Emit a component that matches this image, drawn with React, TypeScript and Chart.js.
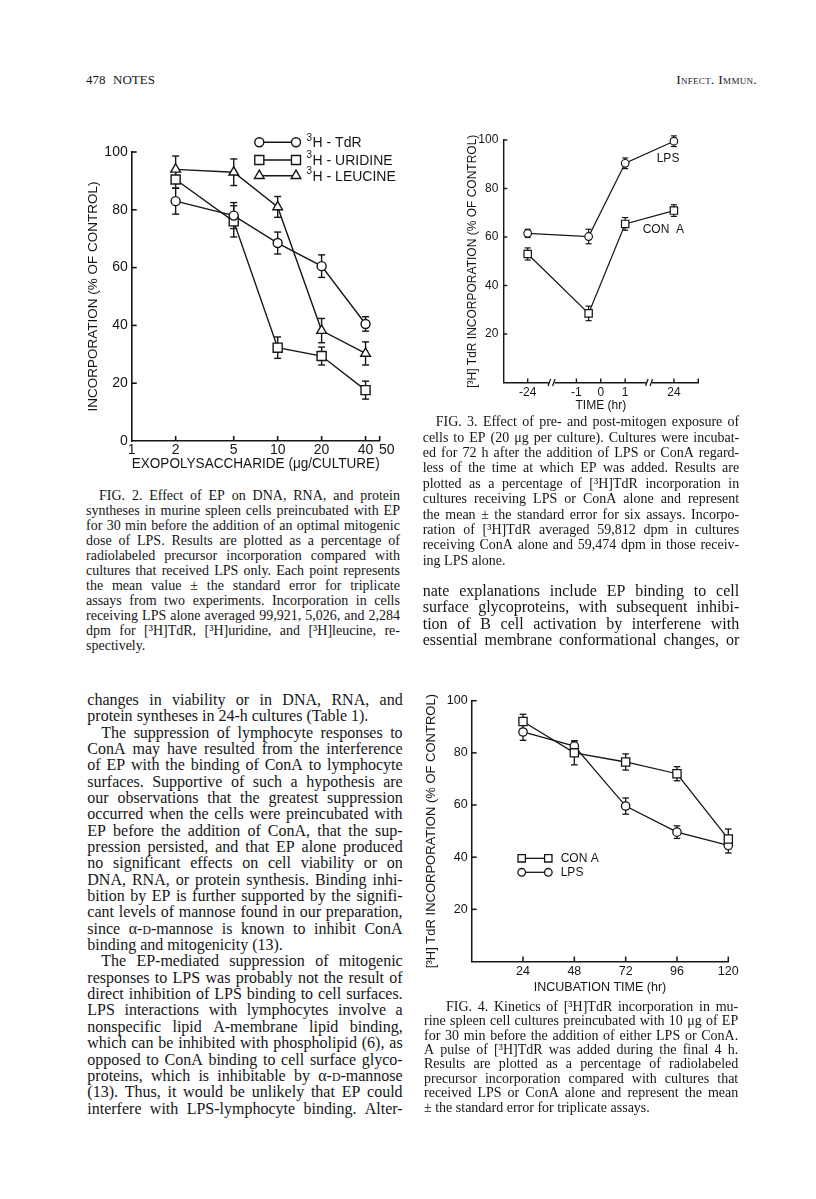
import React, { useEffect, useRef } from 'react';
import { Chart, registerables } from 'chart.js';
Chart.register(...registerables);

const INK = '#151515';
const SERIF = "'Liberation Serif', 'Times New Roman', Times, serif";
const SANS = "'Liberation Sans', Arial, Helvetica, sans-serif";

// ---------------- FIG. 2 data ----------------
const fig2Doses = [2, 5, 10, 20, 40];
const fig2TdR = [83, 78, 68.5, 60.5, 40.5];
const fig2TdRErr = [4.5, 4.5, 3.8, 3.9, 2.5];
const fig2Uridine = [90.5, 76, 32.3, 29.4, 17.6];
const fig2UridineErr = [3, 5.4, 3.7, 3.1, 3.1];
const fig2Leucine = [94, 93, 81, 38.2, 30.3];
const fig2LeucineErr = [4.6, 4.6, 3.6, 4.2, 4];
const fig2XTicks = [1, 2, 5, 10, 20, 40, 50];
const fig2XTickLabels = ['1', '2', '5', '10', '20', '40', '\u200350'];
const fig2YTicks = [0, 20, 40, 60, 80, 100];
const fig2Legend = ['H - TdR', 'H - URIDINE', 'H - LEUCINE'];

// ---------------- FIG. 3 data ----------------
const fig3Hours = [-24, -0.5, 1, 24];
const fig3LPS = [61.5, 60.2, 90.4, 99.5];
const fig3LPSErr = [1.7, 3, 2.2, 2.2];
const fig3ConA = [53, 28.5, 65.4, 70.9];
const fig3ConAErr = [2.5, 3, 2.6, 2.4];
const fig3TickHours = [-24, -1, 0, 1, 24];
const fig3YTicks = [20, 40, 60, 80, 100];

// ---------------- FIG. 4 data ----------------
const fig4Hours = [24, 48, 72, 96, 120];
const fig4ConA = [92, 80, 76.5, 72, 47];
const fig4ConAErr = [2.8, 4.6, 3.1, 2.7, 3.8];
const fig4LPS = [88, 82.6, 59.6, 49.6, 44.5];
const fig4LPSErr = [3.2, 2, 3.1, 2.4, 2.9];
const fig4XTicks = [24, 48, 72, 96, 120];
const fig4YTicks = [20, 40, 60, 80, 100];

// ---------------- text ----------------
const fig2Caption = [
  'FIG. 2. Effect of EP on DNA, RNA, and protein',
  'syntheses in murine spleen cells preincubated with EP',
  'for 30 min before the addition of an optimal mitogenic',
  'dose of LPS. Results are plotted as a percentage of',
  'radiolabeled precursor incorporation compared with',
  'cultures that received LPS only. Each point represents',
  'the mean value \u00b1 the standard error for triplicate',
  'assays from two experiments. Incorporation in cells',
  'receiving LPS alone averaged 99,921, 5,026, and 2,284',
  'dpm for [\u00b3H]TdR, [\u00b3H]uridine, and [\u00b3H]leucine, re-',
  'spectively.',
];
const fig3Caption = [
  'FIG. 3. Effect of pre- and post-mitogen exposure of',
  'cells to EP (20 \u03bcg per culture). Cultures were incubat-',
  'ed for 72 h after the addition of LPS or ConA regard-',
  'less of the time at which EP was added. Results are',
  'plotted as a percentage of [\u00b3H]TdR incorporation in',
  'cultures receiving LPS or ConA alone and represent',
  'the mean \u00b1 the standard error for six assays. Incorpo-',
  'ration of [\u00b3H]TdR averaged 59,812 dpm in cultures',
  'receiving ConA alone and 59,474 dpm in those receiv-',
  'ing LPS alone.',
];
const fig4Caption = [
  'FIG. 4. Kinetics of [\u00b3H]TdR incorporation in mu-',
  'rine spleen cell cultures preincubated with 10 \u03bcg of EP',
  'for 30 min before the addition of either LPS or ConA.',
  'A pulse of [\u00b3H]TdR was added during the final 4 h.',
  'Results are plotted as a percentage of radiolabeled',
  'precursor incorporation compared with cultures that',
  'received LPS or ConA alone and represent the mean',
  '\u00b1 the standard error for triplicate assays.',
];
const rightBody = [
  'nate explanations include EP binding to cell',
  'surface glycoproteins, with subsequent inhibi-',
  'tion of B cell activation by interferene with',
  'essential membrane conformational changes, or',
];
const leftBody = [
  'changes in viability or in DNA, RNA, and',
  'protein syntheses in 24-h cultures (Table 1).',
  'The suppression of lymphocyte responses to',
  'ConA may have resulted from the interference',
  'of EP with the binding of ConA to lymphocyte',
  'surfaces. Supportive of such a hypothesis are',
  'our observations that the greatest suppression',
  'occurred when the cells were preincubated with',
  'EP before the addition of ConA, that the sup-',
  'pression persisted, and that EP alone produced',
  'no significant effects on cell viability or on',
  'DNA, RNA, or protein synthesis. Binding inhi-',
  'bition by EP is further supported by the signifi-',
  'cant levels of mannose found in our preparation,',
  'since \u03b1-D-mannose is known to inhibit ConA',
  'binding and mitogenicity (13).',
  'The EP-mediated suppression of mitogenic',
  'responses to LPS was probably not the result of',
  'direct inhibition of LPS binding to cell surfaces.',
  'LPS interactions with lymphocytes involve a',
  'nonspecific lipid A-membrane lipid binding,',
  'which can be inhibited with phospholipid (6), as',
  'opposed to ConA binding to cell surface glyco-',
  'proteins, which is inhibitable by \u03b1-D-mannose',
  '(13). Thus, it would be unlikely that EP could',
  'interfere with LPS-lymphocyte binding. Alter-',
];

// ---------------- chart helpers ----------------
type Rect = { x: number; y: number; w: number; h: number };
type Area = { l: number; t: number; r: number; b: number };
type Series = { xs: number[]; ys: number[]; errs: number[]; style: string; r: number };
type FigSpec = {
  rect: Rect;
  area: Area;
  xScale: any;
  xTicks: number[];
  xLabel: (v: number) => string;
  xMarks: number[];
  yTicks: number[];
  yMarks: number[];
  tickFont: number;
  xTickPad: number;
  yTickPad: number;
  xTitle: string;
  xTitleSize: number;
  xTitlePad: number;
  yTitle: string;
  yTitleSize: number;
  yTitlePad: number;
  series: Series[];
  lineW: number;
  axisW: number;
  cap: number;
  tickLen: number;
  decorate?: (ctx: CanvasRenderingContext2D, chart: any, P: (x: number, y: number) => [number, number]) => void;
};

function drawMarker(ctx: CanvasRenderingContext2D, style: string, x: number, y: number, r: number) {
  ctx.beginPath();
  if (style === 'circle') ctx.arc(x, y, r, 0, Math.PI * 2);
  else if (style === 'rect') {
    const s = r * Math.SQRT1_2;
    ctx.rect(x - s, y - s, 2 * s, 2 * s);
  } else {
    ctx.moveTo(x, y - r);
    ctx.lineTo(x + r * Math.sin((2 * Math.PI) / 3), y - r * Math.cos((2 * Math.PI) / 3));
    ctx.lineTo(x + r * Math.sin((4 * Math.PI) / 3), y - r * Math.cos((4 * Math.PI) / 3));
    ctx.closePath();
  }
  ctx.fillStyle = '#fff';
  ctx.fill();
  ctx.stroke();
}

function seg(ctx: CanvasRenderingContext2D, x1: number, y1: number, x2: number, y2: number) {
  ctx.beginPath();
  ctx.moveTo(x1, y1);
  ctx.lineTo(x2, y2);
  ctx.stroke();
}

function buildConfig(s: FigSpec): any {
  const padTop = s.area.t - s.rect.y;
  const padRight = s.rect.x + s.rect.w - s.area.r;
  const yW = s.area.l - s.rect.x;
  const xH = s.rect.y + s.rect.h - s.area.b;
  const P = (x: number, y: number): [number, number] => [x - s.rect.x, y - s.rect.y];
  const decor = {
    id: 'decor',
    beforeDatasetsDraw(chart: any) {
      const ctx = chart.ctx;
      const yS = chart.scales.y;
      ctx.save();
      ctx.strokeStyle = INK;
      ctx.lineWidth = s.lineW;
      chart.data.datasets.forEach((ds: any, i: number) => {
        const meta = chart.getDatasetMeta(i);
        ds.data.forEach((p: any, j: number) => {
          const e = ds.errs[j];
          const px = meta.data[j].x;
          const t = yS.getPixelForValue(p.y + e);
          const b = yS.getPixelForValue(p.y - e);
          seg(ctx, px, t, px, b);
          seg(ctx, px - s.cap, t, px + s.cap, t);
          seg(ctx, px - s.cap, b, px + s.cap, b);
        });
      });
      ctx.restore();
    },
    afterDraw(chart: any) {
      const ctx = chart.ctx;
      const a = chart.chartArea;
      const xS = chart.scales.x;
      const yS = chart.scales.y;
      ctx.save();
      ctx.strokeStyle = INK;
      ctx.lineWidth = s.axisW;
      s.xMarks.forEach((v) => {
        const px = xS.getPixelForValue(v);
        seg(ctx, px, a.bottom, px, a.bottom - s.tickLen);
      });
      s.yMarks.forEach((v) => {
        const py = yS.getPixelForValue(v);
        seg(ctx, a.left, py, a.left + s.tickLen, py);
      });
      if (s.decorate) s.decorate(ctx, chart, P);
      ctx.restore();
    },
  };
  return {
    type: 'line',
    data: {
      datasets: s.series.map((se) => ({
        data: se.xs.map((x, i) => ({ x, y: se.ys[i] })),
        errs: se.errs,
        borderColor: INK,
        borderWidth: s.lineW,
        pointStyle: se.style,
        pointRadius: se.r,
        pointBackgroundColor: '#ffffff',
        pointBorderColor: INK,
        pointBorderWidth: s.lineW,
        tension: 0,
        fill: false,
        clip: false,
        showLine: true,
      })),
    },
    options: {
      responsive: false,
      animation: false,
      devicePixelRatio: 1,
      events: [],
      layout: { padding: { top: padTop, right: padRight, left: 0, bottom: 0 } },
      plugins: { legend: { display: false }, tooltip: { enabled: false }, title: { display: false } },
      scales: {
        x: {
          ...s.xScale,
          position: 'bottom',
          afterFit: (sc: any) => {
            sc.height = xH;
          },
          afterBuildTicks: (sc: any) => {
            sc.ticks = s.xTicks.map((v) => ({ value: v }));
          },
          ticks: {
            autoSkip: false,
            maxRotation: 0,
            minRotation: 0,
            padding: s.xTickPad,
            color: INK,
            font: { family: SANS, size: s.tickFont },
            callback: (v: number) => s.xLabel(v),
          },
          grid: { display: false, drawTicks: false },
          border: { display: true, color: INK, width: s.axisW },
          title: {
            display: true,
            text: s.xTitle,
            color: INK,
            font: { family: SANS, size: s.xTitleSize },
            padding: { top: 0, bottom: s.xTitlePad },
          },
        },
        y: {
          type: 'linear',
          min: 0,
          max: 100,
          position: 'left',
          afterFit: (sc: any) => {
            sc.width = yW;
          },
          afterBuildTicks: (sc: any) => {
            sc.ticks = s.yTicks.map((v) => ({ value: v }));
          },
          ticks: {
            padding: s.yTickPad,
            color: INK,
            font: { family: SANS, size: s.tickFont },
            callback: (v: number) => String(v),
          },
          grid: { display: false, drawTicks: false },
          border: { display: true, color: INK, width: s.axisW },
          title: {
            display: true,
            text: s.yTitle,
            color: INK,
            font: { family: SANS, size: s.yTitleSize },
            padding: { top: s.yTitlePad, bottom: 0 },
          },
        },
      },
    },
    plugins: [decor],
  };
}

function drawSupLabel(ctx: CanvasRenderingContext2D, text: string, x: number, y: number, size: number) {
  ctx.fillStyle = INK;
  ctx.textBaseline = 'middle';
  ctx.textAlign = 'left';
  ctx.font = `${Math.round(size * 0.72)}px ${SANS}`;
  ctx.fillText('3', x, y - size * 0.38);
  const w = ctx.measureText('3').width;
  ctx.font = `${size}px ${SANS}`;
  ctx.fillText(text, x + w + 0.5, y);
}

// ---------------- figure specs ----------------
const fig3Axis = (h: number) => (Math.abs(h) <= 1 ? h : Math.sign(h) * 3);

const fig2Spec: FigSpec = {
  rect: { x: 78, y: 130, w: 332, h: 345 },
  area: { l: 131.7, t: 152, r: 379.7, b: 441 },
  xScale: { type: 'logarithmic', min: 1, max: 50 },
  xTicks: fig2XTicks,
  xLabel: (v) => fig2XTickLabels[fig2XTicks.indexOf(v)] ?? '',
  xMarks: fig2XTicks.slice(1),
  yTicks: fig2YTicks,
  yMarks: fig2YTicks.slice(1),
  tickFont: 14,
  xTickPad: 1,
  yTickPad: 4,
  xTitle: 'EXOPOLYSACCHARIDE (\u03bcg/CULTURE)',
  xTitleSize: 14,
  xTitlePad: 2,
  yTitle: 'INCORPORATION (% OF CONTROL)',
  yTitleSize: 13.5,
  yTitlePad: 7,
  series: [
    { xs: fig2Doses, ys: fig2TdR, errs: fig2TdRErr, style: 'circle', r: 4.5 },
    { xs: fig2Doses, ys: fig2Uridine, errs: fig2UridineErr, style: 'rect', r: 6.4 },
    { xs: fig2Doses, ys: fig2Leucine, errs: fig2LeucineErr, style: 'triangle', r: 5.6 },
  ],
  lineW: 1.4,
  axisW: 1.6,
  cap: 3.5,
  tickLen: 5,
  decorate: (ctx, chart, P) => {
    const rows = [142.3, 160, 175.7];
    const styles = ['circle', 'rect', 'triangle'];
    const radii = [4.5, 6.4, 5.6];
    ctx.lineWidth = 1.4;
    rows.forEach((ry, i) => {
      const [x1, y] = P(259.3, ry);
      const [x2] = P(296, ry);
      seg(ctx, x1, y, x2, y);
      drawMarker(ctx, styles[i], x1, y, radii[i]);
      drawMarker(ctx, styles[i], x2, y, radii[i]);
      const [tx] = P(306.5, ry);
      drawSupLabel(ctx, fig2Legend[i], tx, y + 1, 14);
    });
  },
};

const fig3Spec: FigSpec = {
  rect: { x: 455, y: 118, w: 265, h: 300 },
  area: { l: 503.3, t: 140, r: 698.3, b: 382.5 },
  xScale: { type: 'linear', min: -4, max: 4 },
  xTicks: fig3TickHours.map(fig3Axis),
  xLabel: (v) => {
    const i = fig3TickHours.map(fig3Axis).indexOf(v);
    return i >= 0 ? String(fig3TickHours[i]) : '';
  },
  xMarks: [...fig3TickHours.map(fig3Axis), 4],
  yTicks: fig3YTicks,
  yMarks: fig3YTicks,
  tickFont: 12,
  xTickPad: 3,
  yTickPad: 5,
  xTitle: 'TIME (hr)',
  xTitleSize: 12,
  xTitlePad: 5,
  yTitle: '[\u00b3H] TdR INCORPORATION (% OF CONTROL)',
  yTitleSize: 12,
  yTitlePad: 10,
  series: [
    { xs: fig3Hours.map(fig3Axis), ys: fig3LPS, errs: fig3LPSErr, style: 'circle', r: 3.8 },
    { xs: fig3Hours.map(fig3Axis), ys: fig3ConA, errs: fig3ConAErr, style: 'rect', r: 5.2 },
  ],
  lineW: 1.2,
  axisW: 1.4,
  cap: 3,
  tickLen: 4,
  decorate: (ctx, chart, P) => {
    const xS = chart.scales.x;
    const a = chart.chartArea;
    [-2, 2].forEach((v) => {
      const px = xS.getPixelForValue(v);
      ctx.fillStyle = '#fff';
      ctx.fillRect(px - 2.5, a.bottom - 3, 5, 6);
      ctx.lineWidth = 1.2;
      seg(ctx, px - 4, a.bottom + 3.5, px - 1.5, a.bottom - 3.5);
      seg(ctx, px + 0.5, a.bottom + 3.5, px + 3, a.bottom - 3.5);
    });
    ctx.fillStyle = INK;
    ctx.font = `12px ${SANS}`;
    ctx.textBaseline = 'middle';
    ctx.textAlign = 'left';
    const [lx, ly] = P(656.7, 159);
    ctx.fillText('LPS', lx, ly);
    const [cx, cy] = P(642.7, 230);
    ctx.fillText('CON  A', cx, cy);
  },
};

const fig4Spec: FigSpec = {
  rect: { x: 415, y: 680, w: 335, h: 320 },
  area: { l: 471.7, t: 700.7, r: 728.3, b: 961.5 },
  xScale: { type: 'linear', min: 0, max: 120 },
  xTicks: fig4XTicks,
  xLabel: (v) => String(v),
  xMarks: fig4XTicks,
  yTicks: fig4YTicks,
  yMarks: fig4YTicks,
  tickFont: 12.5,
  xTickPad: 3,
  yTickPad: 4,
  xTitle: 'INCUBATION TIME (hr)',
  xTitleSize: 12.5,
  xTitlePad: 5,
  yTitle: '[\u00b3H] TdR INCORPORATION (% OF CONTROL)',
  yTitleSize: 13,
  yTitlePad: 9,
  series: [
    { xs: fig4Hours, ys: fig4ConA, errs: fig4ConAErr, style: 'rect', r: 5.8 },
    { xs: fig4Hours, ys: fig4LPS, errs: fig4LPSErr, style: 'circle', r: 4.2 },
  ],
  lineW: 1.3,
  axisW: 1.5,
  cap: 3.3,
  tickLen: 5,
  decorate: (ctx, chart, P) => {
    const rows = [858.3, 872.3];
    const styles = ['rect', 'circle'];
    const radii = [5.2, 3.8];
    const labels = ['CON A', 'LPS'];
    ctx.lineWidth = 1.3;
    rows.forEach((ry, i) => {
      const [x1, y] = P(521.7, ry);
      const [x2] = P(548.3, ry);
      seg(ctx, x1, y, x2, y);
      drawMarker(ctx, styles[i], x1, y, radii[i]);
      drawMarker(ctx, styles[i], x2, y, radii[i]);
      const [tx] = P(560.7, ry);
      ctx.fillStyle = INK;
      ctx.font = `12px ${SANS}`;
      ctx.textBaseline = 'middle';
      ctx.textAlign = 'left';
      ctx.fillText(labels[i], tx, y + 0.5);
    });
  },
};

// ---------------- components ----------------
function ChartFig({ spec }: { spec: FigSpec }) {
  const ref = useRef<HTMLCanvasElement>(null);
  useEffect(() => {
    const chart = new Chart(ref.current as HTMLCanvasElement, buildConfig(spec));
    return () => chart.destroy();
  }, [spec]);
  return (
    <div style={{ position: 'absolute', left: spec.rect.x, top: spec.rect.y, width: spec.rect.w, height: spec.rect.h }}>
      <canvas ref={ref} width={spec.rect.w} height={spec.rect.h} style={{ display: 'block' }} />
    </div>
  );
}

function renderWord(w: string, k: number) {
  if (w.includes('\u03b1-D-')) {
    const [a, b] = w.split('\u03b1-D-');
    return (
      <span key={k}>
        {a}
        {'\u03b1-'}
        <span style={{ fontSize: '0.74em' }}>D</span>
        {'-'}
        {b}
      </span>
    );
  }
  return <span key={k}>{w}</span>;
}

type BlockProps = {
  lines: string[];
  x: number;
  y0: number;
  step: number;
  w: number;
  fs: number;
  indents?: Record<number, number>;
  ragged?: number[];
};

function TextBlock({ lines, x, y0, step, w, fs, indents = {}, ragged = [] }: BlockProps) {
  return (
    <>
      {lines.map((ln, i) => {
        const ind = indents[i] || 0;
        const base: React.CSSProperties = {
          position: 'absolute',
          left: x + ind,
          top: y0 + i * step - 0.68 * fs,
          width: w - ind,
          fontFamily: SERIF,
          fontSize: fs,
          lineHeight: `${Math.round(fs * 1.2)}px`,
          color: INK,
          whiteSpace: 'nowrap',
        };
        const words = ln.split(' ');
        if (ragged.includes(i)) {
          return (
            <div key={i} style={base}>
              {words.map((wd, k) => (
                <React.Fragment key={k}>
                  {k > 0 ? ' ' : ''}
                  {renderWord(wd, k)}
                </React.Fragment>
              ))}
            </div>
          );
        }
        return (
          <div key={i} style={{ ...base, display: 'flex', justifyContent: 'space-between' }}>
            {words.map((wd, k) => renderWord(wd, k))}
          </div>
        );
      })}
    </>
  );
}

export default function App() {
  return (
    <div
      style={{
        position: 'absolute',
        left: 0,
        top: 0,
        width: 816,
        height: 1199,
        background: '#ffffff',
        overflow: 'hidden',
      }}
    >
      <div style={{ position: 'absolute', left: 86, top: 72, fontFamily: SERIF, fontSize: 13, color: INK }}>478</div>
      <div style={{ position: 'absolute', left: 113, top: 72, fontFamily: SERIF, fontSize: 13, color: INK }}>NOTES</div>
      <div
        style={{
          position: 'absolute',
          right: 59,
          top: 72,
          fontFamily: SERIF,
          fontSize: 13.5,
          fontVariant: 'small-caps',
          color: INK,
          letterSpacing: 0.3,
        }}
      >
        Infect. Immun.
      </div>

      <ChartFig spec={fig2Spec} />
      <ChartFig spec={fig3Spec} />
      <ChartFig spec={fig4Spec} />

      <TextBlock lines={fig2Caption} x={86} y0={496.7} step={15} w={314} fs={14} indents={{ 0: 13 }} ragged={[10]} />
      <TextBlock lines={fig3Caption} x={422.7} y0={422.7} step={15.4} w={316.6} fs={14} indents={{ 0: 13 }} ragged={[9]} />
      <TextBlock lines={rightBody} x={422.7} y0={591.7} step={16.4} w={316.6} fs={16} />
      <TextBlock lines={fig4Caption} x={424} y0={1007.3} step={14.4} w={314.3} fs={14} indents={{ 0: 22 }} ragged={[7]} />
      <TextBlock
        lines={leftBody}
        x={87.3}
        y0={700.7}
        step={16.35}
        w={315.4}
        fs={16}
        indents={{ 2: 14, 16: 14 }}
        ragged={[1, 15]}
      />
    </div>
  );
}
